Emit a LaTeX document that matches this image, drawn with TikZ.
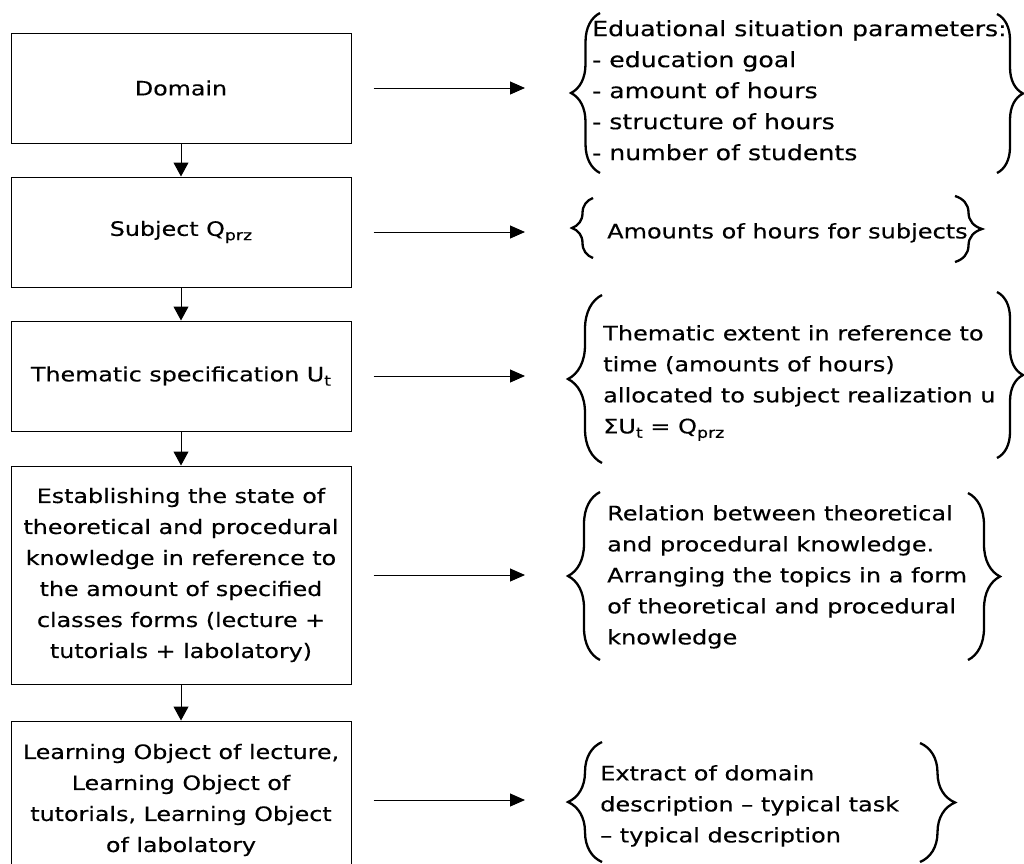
\documentclass[tikz,border=0pt]{standalone}
\usepackage{fontspec}
\setmainfont[FakeStretch=1.2,FakeBold=0.35]{DejaVu Sans}
\usetikzlibrary{arrows.meta,decorations.pathreplacing}
\newcommand\lowsub[1]{\raisebox{-0.22em}{\fontsize{14.5}{14.5}\selectfont #1}}
\begin{document}
\begin{tikzpicture}[x=1pt,y=-1pt,
  stepbox/.style={draw, line width=1pt, minimum width=340pt, inner sep=4pt, align=center, font=\fontsize{19.8}{31}\selectfont},
  note/.style={anchor=north west, inner sep=0pt, align=left, font=\fontsize{20}{31}\selectfont},
  bignote/.style={note, font=\fontsize{21}{31}\selectfont},
  varrow/.style={line width=1pt, -{Triangle[width=15pt,length=14pt]}},
  harrow/.style={line width=1pt, -{Triangle[width=13pt,length=15pt]}, shorten <=22pt},
  curly/.style={line width=2.3pt, decorate, decoration={brace, amplitude=#1}}]
\useasboundingbox (0,0) rectangle (1024,863);

% left column
\node[stepbox, minimum height=110pt] (b1) at (181,88) {Domain};
\node[stepbox, minimum height=110pt] (b2) at (181,232) {Subject Q\lowsub{prz}};
\node[stepbox, minimum height=110pt] (b3) at (181,376) {Thematic specification U\lowsub{t}};
\node[stepbox, minimum height=218pt] (b4) at (181,575) {Establishing the state of\\theoretical and procedural\\knowledge in reference to\\the amount of specified\\classes forms (lecture +\\tutorials + labolatory)};
\node[stepbox, minimum height=158pt] (b5) at (181,800) {Learning Object of lecture,\\Learning Object of\\tutorials, Learning Object\\of labolatory};

\draw[varrow] (b1.south) -- (b2.north);
\draw[varrow] (b2.south) -- (b3.north);
\draw[varrow] (b3.south) -- (b4.north);
\draw[varrow] (b4.south) -- (b5.north);

% arrow ends
\coordinate (e1) at (525,88);
\coordinate (e2) at (525,232);
\coordinate (e3) at (525,376);
\coordinate (e4) at (525,575);
\coordinate (e5) at (525,800);
\draw[harrow] (b1.east) -- (e1);
\draw[harrow] (b2.east) -- (e2);
\draw[harrow] (b3.east) -- (e3);
\draw[harrow] (b4.east) -- (e4);
\draw[harrow] (b5.east) -- (e5);

% notes
\node[bignote] (t1) at (592,20) {Eduational situation parameters:\\- education goal\\- amount of hours\\- structure of hours\\- number of students};
\node[note] (t2) at (607,223) {Amounts of hours for subjects};
\node[note] (t3) at (603,325) {Thematic extent in reference to\\time (amounts of hours)\\allocated to subject realization u\\ΣU\lowsub{t} = Q\lowsub{prz}};
\node[note] (t4) at (607,505) {Relation between theoretical\\and procedural knowledge.\\Arranging the topics in a form\\of theoretical and procedural\\knowledge};
\node[note] (t5) at (600,765) {Extract of domain\\description – typical task\\– typical description};

% braces
\draw[curly=29pt] (600,173) -- (600,13);
\draw[curly=26pt] (997,14) -- (997,173);
\draw[curly=21pt] (593,258) -- (593,198);
\draw[curly=27pt] (955,196) -- (955,262);
\draw[curly=34pt] (602,463) -- (602,295);
\draw[curly=26pt] (997,292) -- (997,458);
\draw[curly=32pt] (600,660) -- (600,492);
\draw[curly=32pt] (968,493) -- (968,660);
\draw[curly=34pt] (602,862) -- (602,742);
\draw[curly=35pt] (920,743) -- (920,862);
\end{tikzpicture}
\end{document}
